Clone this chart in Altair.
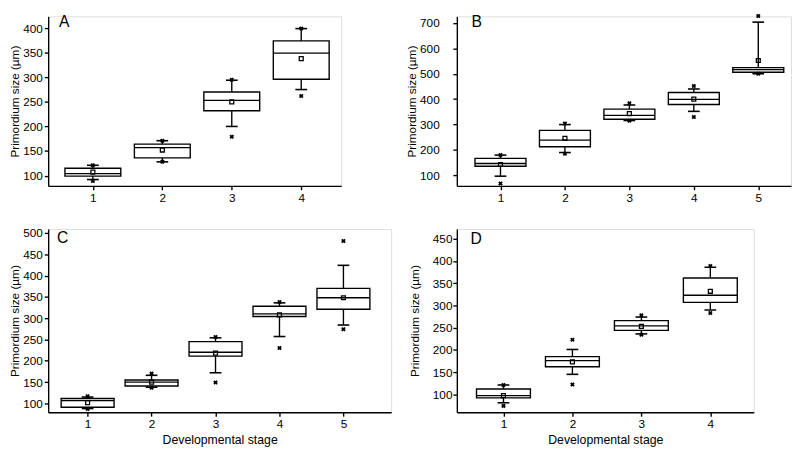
import altair as alt
import pandas as pd

# ---------------- data ----------------
A_stage = [1, 2, 3, 4]
A_wlo = [92, 128, 200, 275]
A_q1 = [99, 136, 232, 296]
A_med = [104, 157, 253, 349]
A_q3 = [115, 164, 270, 374]
A_whi = [121, 171, 294, 399]
A_mean = [107, 152, 250, 338]
A_min = [89, 128, 179, 262]
A_max = [121, 171, 295, 399]

B_stage = [1, 2, 3, 4, 5]
B_wlo = [97, 190, 316, 352, 500]
B_q1 = [136, 213, 321, 379, 506]
B_med = [147, 239, 336, 399, 516]
B_q3 = [167, 277, 361, 426, 524]
B_whi = [180, 300, 377, 440, 703]
B_mean = [143, 246, 343, 400, 552]
B_min = [68, 185, 315, 330, 500]
B_max = [180, 304, 384, 452, 727]

C_stage = [1, 2, 3, 4, 5]
C_wlo = [88, 138, 172, 257, 284]
C_q1 = [91, 141, 211, 304, 321]
C_med = [107, 150, 220, 310, 348]
C_q3 = [112, 155, 245, 328, 370]
C_whi = [115, 166, 254, 336, 424]
C_mean = [102, 150, 218, 308, 348]
C_min = [87, 137, 149, 230, 274]
C_max = [117, 170, 256, 338, 481]

D_stage = [1, 2, 3, 4]
D_wlo = [81, 145, 236, 290]
D_q1 = [92, 162, 244, 307]
D_med = [97, 176, 254, 323]
D_q3 = [112, 185, 266, 362]
D_whi = [121, 201, 274, 386]
D_mean = [97, 173, 253, 332]
D_min = [74, 122, 234, 283]
D_max = [121, 223, 278, 389]

A_yticks = [100, 150, 200, 250, 300, 350, 400]
B_yticks = [100, 200, 300, 400, 500, 600, 700]
C_yticks = [100, 150, 200, 250, 300, 350, 400, 450, 500]
D_yticks = [100, 150, 200, 250, 300, 350, 400, 450]

Y_TITLE = "Primordium size (µm)"
X_TITLE = "Developmental stage"

FONT = "Liberation Sans"
INK = "#000000"
LW = 1.4


def panel(letter, stage, wlo, q1, med, q3, whi, mean, mn, mx, yticks,
          width, height, xdom, ydom, box, lab_pad, title_pad, letter_xy, letter_base,
          xtitle):
    df = pd.DataFrame({"stage": stage, "wlo": wlo, "q1": q1, "med": med,
                       "q3": q3, "whi": whi, "mean": mean, "mn": mn, "mx": mx})
    xsc = alt.Scale(domain=xdom, nice=False, zero=False)
    xax = alt.Axis(values=stage, format="d", grid=False, tickSize=4,
                   labelPadding=3, labelFontSize=12, labelFont=FONT,
                   labelColor=INK, domainColor=INK, tickColor=INK,
                   domainWidth=LW, tickWidth=LW, labelOverlap=False,
                   title=xtitle if xtitle else "",
                   titleFont=FONT, titleFontSize=12.5, titleFontWeight="normal",
                   titleColor=INK, titlePadding=4, labelFlush=False)
    x = alt.X("stage:Q", scale=xsc, axis=xax)
    ysc = alt.Scale(domain=ydom, nice=False, zero=False)
    yax = alt.Axis(values=yticks, grid=False, tickSize=4, labelPadding=lab_pad,
                   labelFontSize=12, labelFont=FONT, labelColor=INK, labelOverlap=False,
                   domainColor=INK, tickColor=INK, domainWidth=LW, tickWidth=LW,
                   title=Y_TITLE, titleFont=FONT, titleFontSize=12,
                   titleFontWeight="normal", titleColor=INK, titlePadding=title_pad,
                   labelFlush=False)

    def yf(field):
        return alt.Y(field + ":Q", scale=ysc, axis=yax)

    base = alt.Chart(df)
    whisk = base.mark_rule(color=INK, strokeWidth=LW).encode(
        x=x, y=yf("wlo"), y2="whi:Q")
    boxes = base.mark_bar(size=box, fill="white", stroke=INK, strokeWidth=LW).encode(
        x=x, y=yf("q1"), y2="q3:Q")
    medl = base.mark_tick(orient="horizontal", size=box, thickness=LW, color=INK,
                          opacity=1).encode(x=x, y=yf("med"))
    caplo = base.mark_tick(orient="horizontal", size=12, thickness=1.6, color=INK,
                           opacity=1).encode(x=x, y=yf("wlo"))
    caphi = base.mark_tick(orient="horizontal", size=12, thickness=1.6, color=INK,
                           opacity=1).encode(x=x, y=yf("whi"))
    meanp = base.mark_point(shape="square", size=16, filled=False, color=INK,
                            strokeWidth=1.3, opacity=1).encode(x=x, y=yf("mean"))
    minp = base.mark_point(shape="cross", angle=45, size=22, filled=True, color=INK,
                           opacity=1).encode(x=x, y=yf("mn"))
    maxp = base.mark_point(shape="cross", angle=45, size=22, filled=True, color=INK,
                           opacity=1).encode(x=x, y=yf("mx"))
    lab = alt.Chart(pd.DataFrame({"t": [letter]})).mark_text(
        font=FONT, fontSize=16, align="left", baseline=letter_base, color=INK).encode(
        text="t:N", x=alt.value(letter_xy[0]), y=alt.value(letter_xy[1]))
    return alt.layer(whisk, boxes, medl, caplo, caphi, meanp, minp, maxp, lab).properties(
        width=width, height=height)


pA = panel("A", A_stage, A_wlo, A_q1, A_med, A_q3, A_whi, A_mean, A_min, A_max, A_yticks,
           299, 173, [0.427, 4.505], [79.1, 423.9], 57, 2, 1, (11, -2), "top", None)
pB = panel("B", B_stage, B_wlo, B_q1, B_med, B_q3, B_whi, B_mean, B_min, B_max, B_yticks,
           341, 173, [0.399, 5.432], [58.8, 725.7], 52, 14, 1, (15, -2), "top", None)
pC = panel("C", C_stage, C_wlo, C_q1, C_med, C_q3, C_whi, C_mean, C_min, C_max, C_yticks,
           350, 187, [0.460, 5.670], [79.3, 509.2], 54, 2, 1, (9, 14), "alphabetic",
           X_TITLE)
pD = panel("D", D_stage, D_wlo, D_q1, D_med, D_q3, D_whi, D_mean, D_min, D_max, D_yticks,
           303, 187, [0.395, 4.559], [59.6, 472.2], 55, 1, 11, (14, 15), "alphabetic",
           X_TITLE)

chart = alt.ConcatChart(
    concat=[pA, pB, pC, pD], columns=2,
    spacing={"row": 44, "column": 67}, bounds="flush",
    resolve=alt.Resolve(scale=alt.ScaleResolveMap(x="independent", y="independent")),
).properties(
    padding={"left": 0, "top": 0, "right": 0, "bottom": 0}
).configure_view(stroke="transparent", strokeWidth=0).configure(background="white")

chart.save("out.html", embed_options={"renderer": "svg", "actions": False})
